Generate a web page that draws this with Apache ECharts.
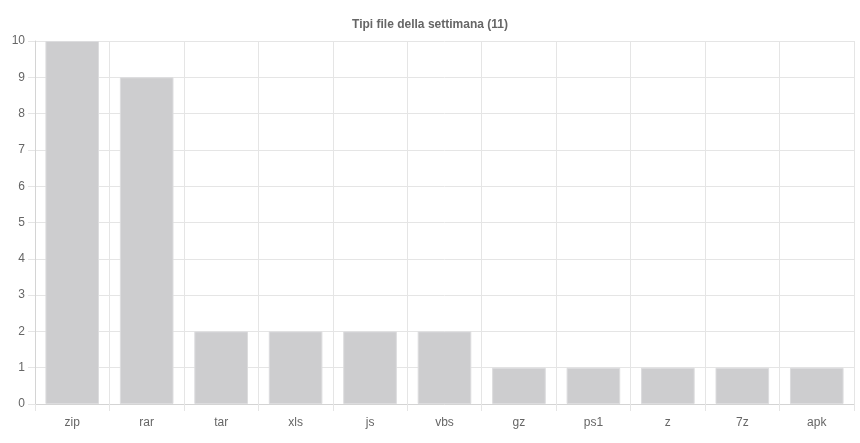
<!DOCTYPE html>
<html><head><meta charset="utf-8">
<script src="https://cdn.jsdelivr.net/npm/echarts@6/dist/echarts.min.js"></script>
<style>html,body{margin:0;padding:0;background:#fff}#c{width:860px;height:443px}</style>
</head><body><div id="c"></div>
<script>
const categories = ['zip','rar','tar','xls','js','vbs','gz','ps1','z','7z','apk'];
const counts = [10, 9, 2, 2, 2, 2, 1, 1, 1, 1, 1];
const titleText = 'Tipi file della settimana (11)';

const chart = echarts.init(document.getElementById('c'), null, {renderer:'canvas'});
chart.setOption({
  animation: false,
  title: {
    text: titleText, left: 'center', top: 14,
    textStyle: {fontFamily: 'Liberation Sans, Arial, sans-serif', fontSize: 12, fontWeight: 'bold', color: '#666'}
  },
  grid: {left: 35, right: 6, top: 41, bottom: 39, containLabel: false},
  xAxis: {
    type: 'category', data: categories, boundaryGap: true,
    axisLine: {show: true, lineStyle: {color: '#d4d4d4', width: 1}},
    axisTick: {show: true, length: 7, lineStyle: {color: '#e5e5e5'}},
    splitLine: {show: true, interval: function (i) { return i < categories.length; }, lineStyle: {color: '#e5e5e5', width: 1}},
    axisLabel: {color: '#666', fontSize: 12, fontFamily: 'Liberation Sans, Arial, sans-serif', margin: 13}
  },
  yAxis: {
    type: 'value', min: 0, max: 10, interval: 1,
    axisLine: {show: true, lineStyle: {color: '#d4d4d4', width: 1}},
    axisTick: {show: true, length: 7, lineStyle: {color: '#e5e5e5'}},
    splitLine: {show: true, lineStyle: {color: '#e5e5e5', width: 1}},
    axisLabel: {color: '#666', fontSize: 12, fontFamily: 'Liberation Sans, Arial, sans-serif', margin: 10}
  },
  series: [{
    type: 'bar', data: counts, barCategoryGap: '28%',
    itemStyle: {color: '#cdcdcf', borderColor: '#dcdcde', borderWidth: 1}
  }]
});
</script></body></html>
